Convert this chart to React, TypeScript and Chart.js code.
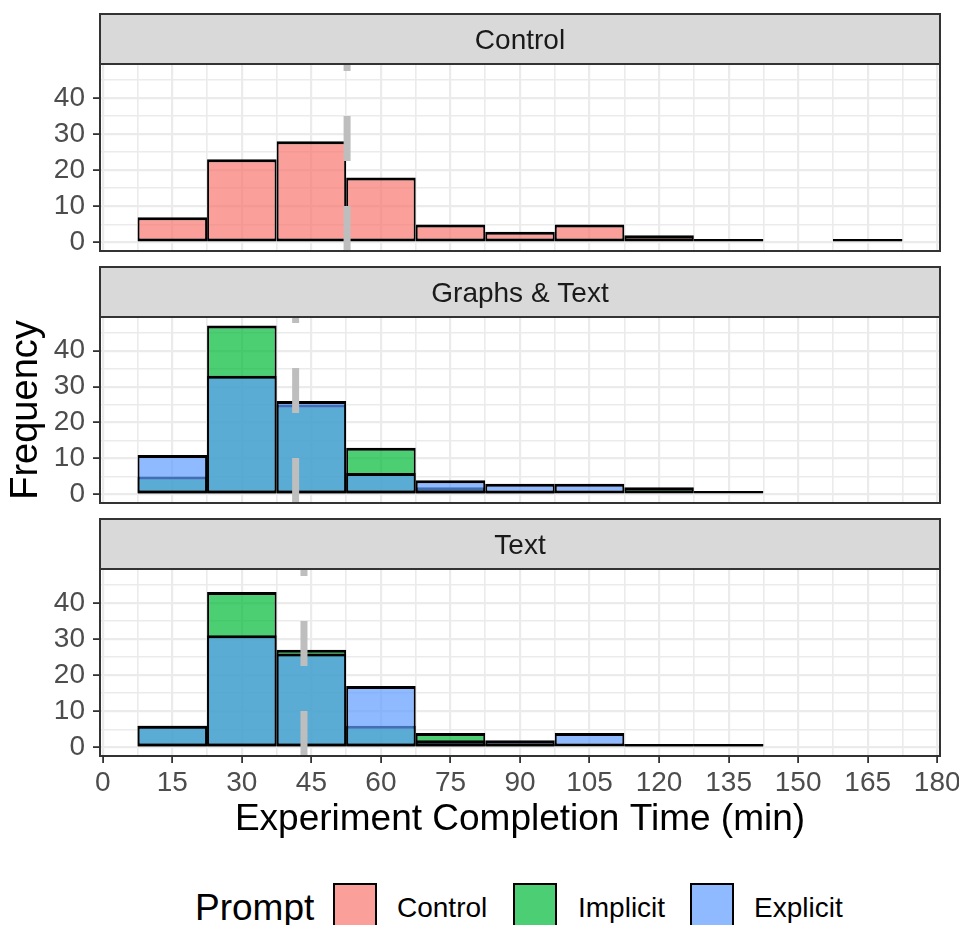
import React, { useEffect, useRef } from 'react';
import { Chart, registerables } from 'chart.js';

Chart.register(...registerables);

// ---------------- data ----------------
const BIN_CENTERS = [15, 30, 45, 60, 75, 90, 105, 120, 135, 150, 165];
const CONTROL_COUNTS = [7, 23, 28, 18, 5, 3, 5, 2, 1, 0, 1];
const GT_IMPLICIT = [5, 47, 25, 13, 2, 1, 0, 2, 1, 0, 0];
const GT_EXPLICIT = [11, 33, 26, 6, 4, 3, 3, 0, 0, 0, 0];
const TX_IMPLICIT = [6, 43, 27, 6, 4, 1, 0, 1, 1, 0, 0];
const TX_EXPLICIT = [6, 31, 26, 17, 2, 2, 4, 1, 1, 0, 0];
const MEANS = [52.7, 41.6, 43.4];
const PANEL_TITLES = ['Control', 'Graphs & Text', 'Text'];
const X_MAJOR_TICKS = [0, 15, 30, 45, 60, 75, 90, 105, 120, 135, 150, 165, 180];
const X_MINOR_TICKS = [7.5, 22.5, 37.5, 52.5, 67.5, 82.5, 97.5, 112.5, 127.5, 142.5, 157.5, 172.5];
const Y_MAJOR_TICKS = [0, 10, 20, 30, 40];
const Y_MINOR_TICKS = [5, 15, 25, 35, 45];
const LEGEND_LABELS = ['Control', 'Implicit', 'Explicit'];
const X_TITLE = 'Experiment Completion Time (min)';
const Y_TITLE = 'Frequency';
const LEGEND_TITLE = 'Prompt';

// ---------------- styling ----------------
const FONT = "'Liberation Sans', Arial, Helvetica, sans-serif";
const X_MIN = -0.6;
const X_MAX = 180.6;
const Y_MIN = -2.35;
const Y_MAX = 49.35;
const BIN_WIDTH = 15;
const CANVAS_W = 980;
const PAD_RIGHT = 40;
const Y_AXIS_W = 100;
const PLOT_W = CANVAS_W - PAD_RIGHT - Y_AXIS_W;
const BAR_PX = (BIN_WIDTH * PLOT_W) / (X_MAX - X_MIN);
const STRIP_H = 50;
const BIG_FONT = 37;

const FILL_CONTROL = 'rgba(248,118,109,0.7)';
const FILL_IMPLICIT = 'rgba(0,186,56,0.7)';
const FILL_EXPLICIT = 'rgba(97,156,255,0.7)';
const KEY_CONTROL = '#FA9F99';
const KEY_IMPLICIT = '#4CCE74';
const KEY_EXPLICIT = '#90BAFF';

const PANELS = [
  { top: 10, height: 266, padTop: 54, padBottom: 25, showX: false, yTitle: false },
  { top: 262, height: 266, padTop: 55, padBottom: 25, showX: false, yTitle: true },
  { top: 515, height: 336, padTop: 54, padBottom: 5, showX: true, yTitle: false },
];

const pts = (vals: number[]) =>
  BIN_CENTERS.map((x, i) => ({ x, y: vals[i] === 0 ? null : vals[i] }));

const barStyle = {
  type: 'bar' as const,
  borderColor: '#000000',
  borderWidth: { top: 3, bottom: 3, left: 2, right: 2 },
  borderSkipped: false,
  grouped: false,
  barThickness: BAR_PX,
  inflateAmount: 0,
};

const vline = (m: number) => ({
  type: 'line' as const,
  data: [
    { x: m, y: Y_MIN },
    { x: m, y: Y_MAX },
  ],
  borderColor: '#BEBEBE',
  borderWidth: 7,
  borderDash: [45, 45],
  borderCapStyle: 'butt',
  pointRadius: 0,
  fill: false,
  order: 0,
});

const panelDecor = {
  id: 'panelDecor',
  afterDraw(chart: any, _args: any, opts: any) {
    const { ctx, chartArea: a } = chart;
    ctx.save();
    const w = a.right - a.left;
    const st = a.top - STRIP_H;
    ctx.fillStyle = '#D9D9D9';
    ctx.fillRect(a.left, st, w, STRIP_H);
    ctx.strokeStyle = '#333333';
    ctx.lineWidth = 2;
    ctx.strokeRect(a.left, st, w, STRIP_H);
    ctx.fillStyle = '#1A1A1A';
    ctx.font = `28px ${FONT}`;
    ctx.textAlign = 'center';
    ctx.textBaseline = 'middle';
    ctx.fillText(opts.title, (a.left + a.right) / 2, st + STRIP_H / 2 + 2.5);
    ctx.strokeRect(a.left, a.top, w, a.bottom - a.top);
    ctx.restore();
  },
};

function makeConfig(p: number): any {
  const spec = PANELS[p];
  let datasets: any[];
  if (p === 0) {
    datasets = [
      { ...barStyle, label: 'Control', data: pts(CONTROL_COUNTS), backgroundColor: FILL_CONTROL, order: 1 },
      vline(MEANS[0]),
    ];
  } else {
    const imp = p === 1 ? GT_IMPLICIT : TX_IMPLICIT;
    const exp = p === 1 ? GT_EXPLICIT : TX_EXPLICIT;
    datasets = [
      { ...barStyle, label: 'Implicit', data: pts(imp), backgroundColor: FILL_IMPLICIT, order: 2 },
      { ...barStyle, label: 'Explicit', data: pts(exp), backgroundColor: FILL_EXPLICIT, order: 1 },
      vline(MEANS[p]),
    ];
  }
  const xTicks = [...X_MAJOR_TICKS, ...X_MINOR_TICKS].sort((a, b) => a - b);
  const yTicks = [...Y_MAJOR_TICKS, ...Y_MINOR_TICKS].sort((a, b) => a - b);
  const isMajX = (v: number) => X_MAJOR_TICKS.includes(v);
  const isMajY = (v: number) => Y_MAJOR_TICKS.includes(v);
  return {
    type: 'bar',
    data: { datasets },
    plugins: [panelDecor],
    options: {
      animation: false,
      responsive: false,
      maintainAspectRatio: false,
      events: [],
      layout: { padding: { top: spec.padTop, bottom: spec.padBottom, left: 0, right: PAD_RIGHT } },
      plugins: {
        legend: { display: false },
        tooltip: { enabled: false },
        panelDecor: { title: PANEL_TITLES[p] },
      },
      scales: {
        x: {
          type: 'linear',
          min: X_MIN,
          max: X_MAX,
          offset: false,
          afterBuildTicks: (axis: any) => {
            axis.ticks = xTicks.map((v) => ({ value: v }));
          },
          afterFit: (axis: any) => {
            axis.height = spec.showX ? 90 : 0;
          },
          border: { display: false },
          grid: {
            offset: false,
            color: '#EBEBEB',
            lineWidth: (c: any) => (c.tick && isMajX(c.tick.value) ? 2.2 : 1.6),
            drawTicks: spec.showX,
            tickLength: 7,
            tickWidth: 1.8,
            tickColor: (c: any) => (c.tick && isMajX(c.tick.value) ? '#333333' : 'rgba(0,0,0,0)'),
          },
          ticks: {
            display: spec.showX,
            autoSkip: false,
            maxRotation: 0,
            minRotation: 0,
            padding: 3,
            color: '#4D4D4D',
            font: { family: FONT, size: 28 },
            callback: (v: number) => (isMajX(v) ? String(v) : ''),
          },
          title: {
            display: spec.showX,
            text: X_TITLE,
            color: '#000000',
            font: { family: FONT, size: BIG_FONT },
            padding: { top: 0, bottom: 4 },
          },
        },
        y: {
          type: 'linear',
          min: Y_MIN,
          max: Y_MAX,
          afterBuildTicks: (axis: any) => {
            axis.ticks = yTicks.map((v) => ({ value: v }));
          },
          afterFit: (axis: any) => {
            axis.width = Y_AXIS_W;
          },
          border: { display: false },
          grid: {
            color: '#EBEBEB',
            lineWidth: (c: any) => (c.tick && isMajY(c.tick.value) ? 2.2 : 1.6),
            drawTicks: true,
            tickLength: 7,
            tickWidth: 1.8,
            tickColor: (c: any) => (c.tick && isMajY(c.tick.value) ? '#333333' : 'rgba(0,0,0,0)'),
          },
          ticks: {
            autoSkip: false,
            padding: 8,
            color: '#4D4D4D',
            font: { family: FONT, size: 28 },
            callback: (v: number) => (isMajY(v) ? String(v) : ''),
          },
          title: {
            display: spec.yTitle,
            text: Y_TITLE,
            color: '#000000',
            font: { family: FONT, size: 38 },
            padding: { top: 4, bottom: 0 },
          },
        },
      },
    },
  };
}

export default function App() {
  const r0 = useRef<HTMLCanvasElement>(null);
  const r1 = useRef<HTMLCanvasElement>(null);
  const r2 = useRef<HTMLCanvasElement>(null);

  useEffect(() => {
    const refs = [r0, r1, r2];
    const charts = refs.map((r, i) => new Chart(r.current as HTMLCanvasElement, makeConfig(i)));
    return () => charts.forEach((c) => c.destroy());
  }, []);

  const refs = [r0, r1, r2];
  const keyColors = [KEY_CONTROL, KEY_IMPLICIT, KEY_EXPLICIT];
  const keyLefts = [333, 513, 690];
  const labelLefts = [397, 578, 754];

  return (
    <div
      style={{
        position: 'absolute',
        left: 0,
        top: 0,
        width: 959,
        height: 925,
        overflow: 'hidden',
        background: '#FFFFFF',
        fontFamily: FONT,
      }}
    >
      {PANELS.map((s, i) => (
        <canvas
          key={i}
          ref={refs[i]}
          width={CANVAS_W}
          height={s.height}
          style={{ position: 'absolute', left: 0, top: s.top, width: CANVAS_W, height: s.height, display: 'block' }}
        />
      ))}
      <div
        style={{
          position: 'absolute',
          left: 195,
          top: 889,
          fontSize: BIG_FONT,
          lineHeight: `${BIG_FONT}px`,
          color: '#000000',
          whiteSpace: 'nowrap',
        }}
      >
        {LEGEND_TITLE}
      </div>
      {LEGEND_LABELS.map((lab, i) => (
        <React.Fragment key={lab}>
          <div
            style={{
              position: 'absolute',
              left: keyLefts[i],
              top: 883,
              width: 44,
              height: 44,
              boxSizing: 'border-box',
              border: '2px solid #000000',
              background: keyColors[i],
            }}
          />
          <div
            style={{
              position: 'absolute',
              left: labelLefts[i],
              top: 894,
              fontSize: 28,
              lineHeight: '28px',
              color: '#000000',
              whiteSpace: 'nowrap',
            }}
          >
            {lab}
          </div>
        </React.Fragment>
      ))}
    </div>
  );
}
